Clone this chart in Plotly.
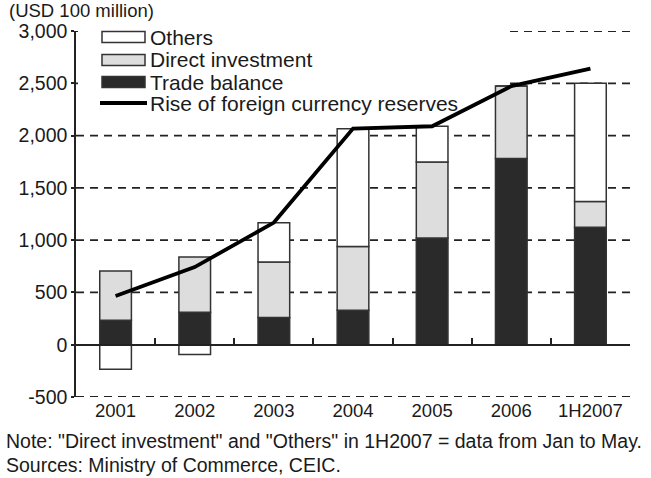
import plotly.graph_objects as go

categories = ["2001", "2002", "2003", "2004", "2005", "2006", "1H2007"]
trade_balance = [235, 310, 260, 330, 1020, 1780, 1123]
direct_investment = [471, 528, 530, 610, 728, 694, 247]
others = [-235, -94, 377, 1125, 342, 0, 1130]
reserve_rise = [466, 742, 1168, 2067, 2089, 2473, 2640]

ytick_vals = [-500, 0, 500, 1000, 1500, 2000, 2500, 3000]
ytick_text = ["-500", "0", "500", "1,000", "1,500", "2,000", "2,500", "3,000"]

W, H = 651, 478
L, R, T, B = 76, 21, 31, 81
PW, PH = W - L - R, H - T - B


def fx(p):
    return (p - L) / PW


def fy(p):
    return (H - B - p) / PH


FONT = "Liberation Sans, Arial, Helvetica, sans-serif"
TXT = "#1a1a1a"
EDGE = "#333333"
GRID = "#222222"

xs = list(range(len(categories)))
fig = go.Figure()
fig.add_trace(go.Bar(x=xs, y=trade_balance, name="Trade balance", width=0.4,
                     marker=dict(color="#2a2a2a", line=dict(color=EDGE, width=1.5))))
fig.add_trace(go.Bar(x=xs, y=direct_investment, name="Direct investment", width=0.4,
                     marker=dict(color="#dddddd", line=dict(color=EDGE, width=1.5))))
fig.add_trace(go.Bar(x=xs, y=others, name="Others", width=0.4,
                     marker=dict(color="#ffffff", line=dict(color=EDGE, width=1.5))))
fig.add_trace(go.Scatter(x=xs, y=reserve_rise, mode="lines", name="Rise of foreign currency reserves",
                         line=dict(color="#000000", width=3.8)))
# invisible trace to anchor the zero-line axis
fig.add_trace(go.Scatter(x=[0], y=[0], xaxis="x2", mode="markers", marker=dict(opacity=0),
                         showlegend=False, hoverinfo="skip"))

fig.update_layout(
    width=W, height=H,
    margin=dict(l=L, r=R, t=T, b=B),
    paper_bgcolor="white", plot_bgcolor="white",
    barmode="relative", showlegend=False,
    font=dict(family=FONT, size=19, color=TXT),
    xaxis=dict(range=[-0.5, 6.5], tickmode="array", tickvals=xs, ticktext=categories,
               showgrid=False, showline=False, zeroline=False, ticks="",
               tickfont=dict(size=18.5, color=TXT)),
    xaxis2=dict(range=[-0.5, 6.5], overlaying="x", anchor="free", position=500 / 3500,
                side="bottom", tickmode="array", tickvals=[k + 0.5 for k in range(7)],
                ticks="inside", ticklen=6, tickwidth=1.5, tickcolor=GRID,
                showticklabels=False, showline=True, linecolor=GRID, linewidth=1.5,
                showgrid=False, zeroline=False),
    yaxis=dict(range=[-500, 3000], tickmode="array", tickvals=ytick_vals, ticktext=ytick_text,
               showgrid=False, showline=True, linecolor=GRID, linewidth=1.5, zeroline=False,
               ticks="outside", ticklen=3, tickcolor=GRID, tickwidth=1.5,
               tickfont=dict(size=19.5, color=TXT)),
)

shapes = []
# dashed gridlines (drawn as shapes below the traces)
for v in ytick_vals:
    if v == 0:
        continue
    shapes.append(dict(type="line", xref="paper", yref="y", x0=0, x1=1, y0=v, y1=v,
                       line=dict(color=GRID, width=1.8, dash="8px,6px"), layer="below"))
# legend background covering gridlines, still below the traces
shapes.append(dict(type="rect", xref="paper", yref="paper", x0=fx(78), x1=fx(504), y0=fy(113), y1=fy(26),
                   fillcolor="white", line=dict(width=0), layer="below"))
leg = [("Others", "#ffffff", 37), ("Direct investment", "#dddddd", 60), ("Trade balance", "#2a2a2a", 82)]
annotations = []
for name, col, cy in leg:
    shapes.append(dict(type="rect", xref="paper", yref="paper", x0=fx(102), x1=fx(145),
                       y0=fy(cy + 5.5), y1=fy(cy - 5.5), fillcolor=col,
                       line=dict(color=EDGE, width=1.5), layer="above"))
    annotations.append(dict(text=name, xref="paper", yref="paper", x=fx(148), y=fy(cy),
                            xanchor="left", yanchor="middle", showarrow=False,
                            font=dict(size=21, color=TXT, family=FONT)))
shapes.append(dict(type="line", xref="paper", yref="paper", x0=fx(100), x1=fx(147), y0=fy(103), y1=fy(103),
                   line=dict(color="black", width=3.8), layer="above"))
annotations.append(dict(text="Rise of foreign currency reserves", xref="paper", yref="paper", x=fx(148), y=fy(103),
                        xanchor="left", yanchor="middle", showarrow=False,
                        font=dict(size=21, color=TXT, family=FONT)))
annotations.append(dict(text="(USD 100 million)", xref="paper", yref="paper", x=fx(7), y=fy(11),
                        xanchor="left", yanchor="middle", showarrow=False,
                        font=dict(size=18.5, color=TXT, family=FONT)))
annotations.append(dict(text='Note: "Direct investment" and "Others" in 1H2007 = data from Jan to May.',
                        xref="paper", yref="paper", x=fx(4), y=fy(441),
                        xanchor="left", yanchor="middle", showarrow=False,
                        font=dict(size=19.5, color=TXT, family=FONT)))
annotations.append(dict(text="Sources: Ministry of Commerce, CEIC.",
                        xref="paper", yref="paper", x=fx(4), y=fy(465),
                        xanchor="left", yanchor="middle", showarrow=False,
                        font=dict(size=19.5, color=TXT, family=FONT)))
fig.update_layout(shapes=shapes, annotations=annotations)

fig.write_html("out.html")
